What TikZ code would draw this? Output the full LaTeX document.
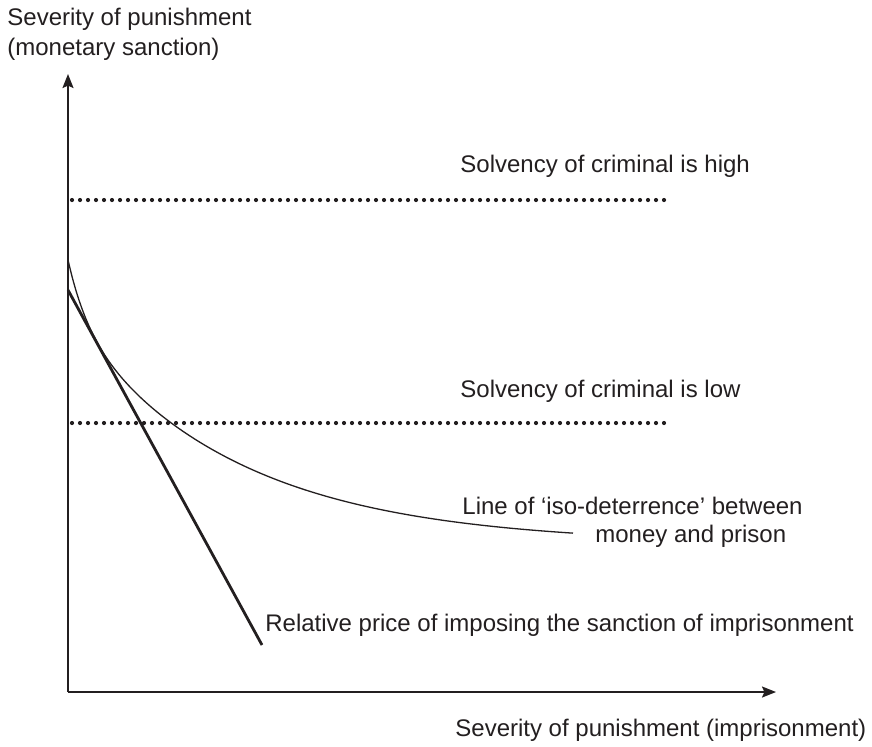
\documentclass[tikz,border=0pt]{standalone}
\usepackage{fontspec}
\setmainfont{Liberation Sans}
\usepackage{tikz}
\usetikzlibrary{arrows.meta}
\usepackage{xcolor}
\definecolor{inkgray}{HTML}{231F20}

\begin{document}
\begin{tikzpicture}[
      x=0.5pt, y=-0.5pt,
      every node/.style={font=\fontsize{12}{15}\selectfont, text=inkgray, inner sep=0pt},
      lbl/.style={anchor=base west, align=left},
      axis/.style={-{Stealth[length=7pt, width=5.5pt, inset=1.2pt]}, line width=0.9pt, draw=inkgray},
      dotline/.style={line width=2.1pt, dash pattern=on 0pt off 4pt, line cap=round, draw=inkgray},
      isocurve/.style={line width=0.65pt, draw=inkgray},
      priceline/.style={line width=1.4pt, draw=inkgray}
    ]
      \useasboundingbox (0,0) rectangle (872,746);
      % axes
      \coordinate (O) at (68,692);
      \coordinate (ytip) at (68,74);
      \coordinate (xtip) at (776,692);
      \draw[axis] (O) -- (ytip);
      \draw[axis] (O) -- (xtip);
      \node[lbl] (ylab) at (7,55) {Severity of punishment\\(monetary sanction)};
      \node[lbl] (xlab) at (455,736) {Severity of punishment (imprisonment)};
      % solvency limits
      \coordinate (hiA) at (72,200);
      \coordinate (hiB) at (664,200);
      \coordinate (loA) at (72,423);
      \coordinate (loB) at (664,423);
      \draw[dotline] (hiA) -- (hiB);
      \draw[dotline] (loA) -- (loB);
      \node[lbl] (hilab) at (460,172) {Solvency of criminal is high};
      \node[lbl] (lolab) at (460,397) {Solvency of criminal is low};
      % iso-deterrence curve
      \draw[isocurve] plot[domain=0:505, samples=120, smooth]
        ({68+\x}, {692-148-224*exp(-\x/167)-60*exp(-\x/19.5)});
      \node[lbl] (isolab) at (462,542) {Line of ‘iso-deterrence’ between\\[-1pt]\hspace*{66.5pt}money and prison};
      % relative price
      \coordinate (pA) at (68,290);
      \coordinate (pB) at (262,645);
      \draw[priceline] (pA) -- (pB);
      \node[lbl] (pricelab) at (265,631) {Relative price of imposing the sanction of imprisonment};
    \end{tikzpicture}
\end{document}
